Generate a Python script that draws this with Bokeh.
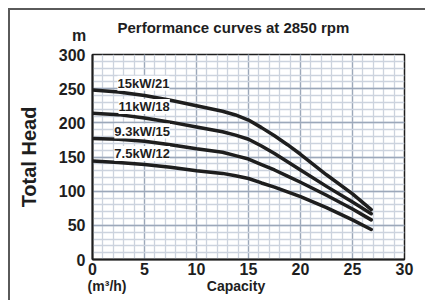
from bokeh.plotting import figure
from bokeh.models import FixedTicker, Label, Range1d, LinearAxis, InlineStyleSheet
from bokeh.embed import file_html
from bokeh.resources import INLINE

# ---- data ----
capacity = [0, 2.5, 5, 7.5, 10, 12.5, 13.75, 15, 16.25, 17.5, 18.75, 20, 22.5, 25, 26.8]
head_15kw = [248, 245, 240, 233, 225, 217, 211.5, 204, 193, 181, 168, 154, 124, 96, 73]
head_11kw = [214, 212, 207, 201, 194, 187, 182, 176, 166, 155, 143, 131, 107, 84, 67]
head_93kw = [177, 176, 173, 168, 162, 157, 152, 147, 139, 131, 122, 113, 94, 74, 58]
head_75kw = [144, 142, 139, 135, 130, 126, 122.5, 118.5, 112, 106, 99, 92, 76, 58, 44]
series_names = ["15kW/21", "11kW/18", "9.3kW/15", "7.5kW/12"]
series = [head_15kw, head_11kw, head_93kw, head_75kw]
label_pos = [(2.4, 258), (2.5, 224), (2.1, 188), (2.1, 155)]
x_ticks = [0, 5, 10, 15, 20, 25, 30]
y_ticks = [0, 50, 100, 150, 200, 250, 300]
x_minor = list(range(0, 31))
y_minor = list(range(0, 301, 10))
unit_pos = 1.4
caption_pos = 13.8

FONT = "Liberation Sans"
DARK = "#1e1e1e"

p = figure(width=425, height=300, output_backend="svg", toolbar_location=None,
           x_range=Range1d(0, 30), y_range=Range1d(0, 300),
           min_border_left=92, min_border_right=21, min_border_top=54,
           min_border_bottom=41)
p.background_fill_color = "white"
p.border_fill_color = None
p.outline_line_color = DARK
p.outline_line_width = 1.5

# outer frame (top and left lines) drawn as the page background behind the canvas
p.stylesheets = [InlineStyleSheet(css="""
:host {
  background:
    linear-gradient(#5a5a5a, #5a5a5a) 8px 8px / 100% 2px no-repeat,
    linear-gradient(#5a5a5a, #5a5a5a) 8px 8px / 2px 100% no-repeat,
    #ffffff;
}
""")]

# grid
p.xgrid.ticker = FixedTicker(ticks=x_ticks, minor_ticks=x_minor)
p.ygrid.ticker = FixedTicker(ticks=y_ticks, minor_ticks=y_minor)
for g in (p.xgrid, p.ygrid):
    g.grid_line_color = "#9ca8ba"
    g.grid_line_width = 1.3
    g.minor_grid_line_color = "#ccd3de"
    g.minor_grid_line_width = 1.3

# axes
p.xaxis.ticker = FixedTicker(ticks=x_ticks, minor_ticks=[])
p.yaxis.ticker = FixedTicker(ticks=y_ticks, minor_ticks=[])
for ax in (p.xaxis, p.yaxis):
    ax.axis_line_color = DARK
    ax.axis_line_width = 2
    ax.major_tick_line_color = None
    ax.minor_tick_line_color = None
    ax.major_tick_out = 0
    ax.minor_tick_out = 0
    ax.major_tick_in = 0
    ax.major_label_text_font = FONT
    ax.major_label_text_font_style = "bold"
    ax.major_label_text_font_size = "16px"
    ax.major_label_text_color = DARK
p.xaxis.major_label_standoff = 3
p.yaxis.major_label_standoff = 7

p.yaxis.axis_label = "Total Head"
p.yaxis.axis_label_text_font = FONT
p.yaxis.axis_label_text_font_style = "bold"
p.yaxis.axis_label_text_font_size = "20px"
p.yaxis.axis_label_text_color = DARK
p.yaxis.axis_label_standoff = 16

# second row below: unit and caption
cap_axis = LinearAxis(ticker=FixedTicker(ticks=[unit_pos, caption_pos], minor_ticks=[]),
                      major_label_overrides={unit_pos: "(m³/h)", caption_pos: "Capacity"})
cap_axis.axis_line_color = None
cap_axis.major_tick_line_color = None
cap_axis.minor_tick_line_color = None
cap_axis.major_tick_out = 0
cap_axis.minor_tick_out = 0
cap_axis.major_tick_in = 0
cap_axis.major_label_standoff = 0
cap_axis.major_label_text_font = FONT
cap_axis.major_label_text_font_style = "bold"
cap_axis.major_label_text_font_size = "14px"
cap_axis.major_label_text_color = DARK
p.add_layout(cap_axis, "below")

# main title
p.title.text = "Performance curves at 2850 rpm"
p.title.text_font = FONT
p.title.text_font_style = "bold"
p.title.text_font_size = "15px"
p.title.text_color = DARK
p.title.align = "left"
p.title.offset = 25
p.title.vertical_align = "top"
p.title.standoff = 33

# unit of the vertical axis, above the tick labels (kept in a side panel so it is not clipped)
p.add_layout(Label(x=-0.6, y=327.5, text="m", text_font=FONT, text_font_style="bold",
                   text_font_size="16px", text_color=DARK, text_align="right",
                   text_baseline="alphabetic"), "right")

# curves
for h in series:
    p.line(capacity, h, line_color=DARK, line_width=3.5, line_cap="round", line_join="round")

for name, (lx, ly) in zip(series_names, label_pos):
    p.add_layout(Label(x=lx, y=ly, text=name, text_font=FONT, text_font_style="bold",
                       text_font_size="13px", text_color=DARK, text_baseline="middle",
                       background_fill_color="white", background_fill_alpha=1.0))

open("out.html", "w").write(file_html(p, INLINE))
